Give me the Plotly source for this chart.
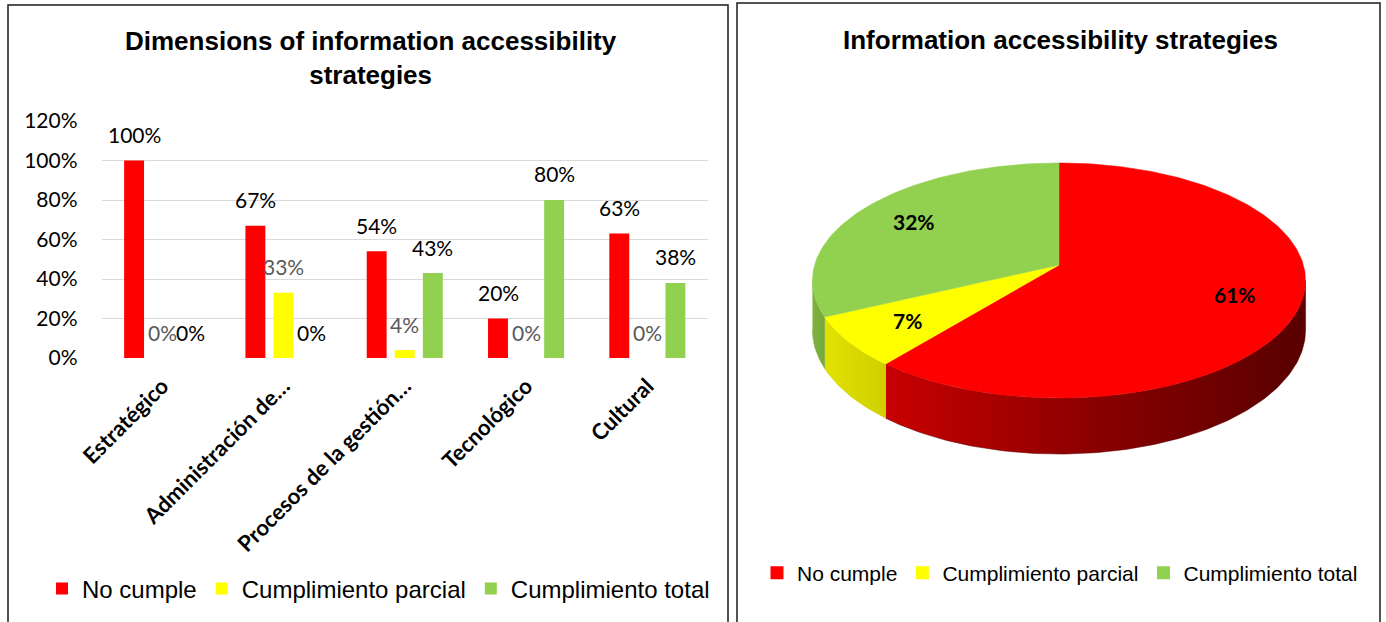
import math
import plotly.graph_objects as go

# ---------------- data ----------------
categories = ["Estratégico", "Administración de…", "Procesos de la gestión…", "Tecnológico", "Cultural"]
series_names = ["No cumple", "Cumplimiento parcial", "Cumplimiento total"]
no_cumple = [100, 67, 54, 20, 63]
cumplimiento_parcial = [0, 33, 4, 0, 0]
cumplimiento_total = [0, 0, 43, 80, 38]
y_ticks = [0, 20, 40, 60, 80, 100, 120]

pie_labels = ["No cumple", "Cumplimiento parcial", "Cumplimiento total"]
pie_values = [61, 7, 32]

# ---------------- style ----------------
W, H = 1386, 622
colors = ["#FF0000", "#FFFF00", "#92D050"]
label_colors = ["#000000", "#595959", "#000000"]
side_scales = [
    [[0, "#C80000"], [0.5, "#8A0000"], [1, "#580000"]],
    [[0, "#E2E200"], [1, "#CFCF00"]],
    [[0, "#7FB23F"], [1, "#76A83A"]],
]
FONT_NUM = "Lato, Open Sans, sans-serif"
FONT_ARIAL = "Liberation Sans, Arial, sans-serif"

def px_x(x):
    return x / W

def px_y(y):
    return 1 - y / H

fig = go.Figure()

# ---------------- bar chart ----------------
series = [no_cumple, cumplimiento_parcial, cumplimiento_total]
for name, vals, col in zip(series_names, series, colors):
    fig.add_trace(go.Bar(
        x=categories, y=vals, name=name, marker=dict(color=col, line=dict(width=0)),
        xaxis="x", yaxis="y", legend="legend", hoverinfo="skip",
    ))

annotations = []
offsets = [-28, 0, 28]
for vals, off, lc in zip(series, offsets, label_colors):
    for cat, v in zip(categories, vals):
        annotations.append(dict(
            x=cat, y=v, xref="x", yref="y", text=f"{v}%", showarrow=False,
            xanchor="center", xshift=off, yshift=26,
            font=dict(family=FONT_NUM, size=21, color=lc),
        ))

# ---------------- 3D-looking pie ----------------
CX, CY = 1059, 265
RX, RY = 244.4, 115.5
PERSP = 0.132
DEPTH = 48.6

def proj(r, th_deg, dz=0.0):
    th = math.radians(th_deg)
    d = 1 + PERSP * r * math.sin(th)
    x = CX + RX * r * math.cos(th) / d
    y = CY + (-RY * r * math.sin(th) + dz) / d
    return x, y

def arc(a0, a1, dz=0.0, n=None):
    n = n or max(2, int(abs(a1 - a0) / 1.0) + 1)
    pts = [proj(1.0, a0 + (a1 - a0) * k / (n - 1), dz) for k in range(n)]
    return [p[0] for p in pts], [p[1] for p in pts]

total = sum(pie_values)
starts, ends = [], []
acc = 0
for v in pie_values:
    s = 90 - 360 * acc / total
    e = s - 360 * v / total
    starts.append(s)
    ends.append(e)
    acc += v

vis_hi = -math.degrees(math.asin(PERSP))
vis_lo = -180 - vis_hi

# side walls
for i in range(len(pie_values)):
    lo, hi = max(ends[i], vis_lo), min(starts[i], vis_hi)
    if hi <= lo:
        continue
    tx, ty = arc(lo, hi, 0)
    bx, by = arc(hi, lo, DEPTH)
    fig.add_trace(go.Scatter(
        x=tx + bx, y=ty + by, fill="toself", mode="lines",
        line=dict(width=0.5, color=side_scales[i][-1][1]),
        fillgradient=dict(type="horizontal", colorscale=side_scales[i]),
        xaxis="x2", yaxis="y2", showlegend=False, hoverinfo="skip",
    ))

# top face wedges
for i in range(len(pie_values)):
    ax, ay = arc(starts[i], ends[i], 0)
    fig.add_trace(go.Scatter(
        x=[CX] + ax + [CX], y=[CY] + ay + [CY], fill="toself", mode="lines",
        line=dict(width=0.5, color=colors[i]), fillcolor=colors[i],
        xaxis="x2", yaxis="y2", showlegend=False, hoverinfo="skip",
    ))

# pie labels
for i, v in enumerate(pie_values):
    mid = (starts[i] + ends[i]) / 2
    lx, ly = proj(0.74, mid)
    annotations.append(dict(
        x=lx, y=ly, xref="x2", yref="y2", text=f"{round(100 * v / total)}%",
        showarrow=False, xanchor="center", yanchor="middle",
        font=dict(family=FONT_NUM, size=21, color="#000000", weight="bold"),
    ))

# pie legend entries
for name, col in zip(pie_labels, colors):
    fig.add_trace(go.Scatter(
        x=[None], y=[None], mode="markers", name=name,
        marker=dict(symbol="square", size=13, color=col),
        xaxis="x2", yaxis="y2", legend="legend2",
    ))

# titles
annotations.append(dict(
    x=px_x(371), y=px_y(58), xref="paper", yref="paper", xanchor="center", yanchor="middle",
    text="Dimensions of information accessibility<br>strategies", showarrow=False,
    font=dict(family=FONT_ARIAL, size=26, color="#000000", weight="bold"),
))
annotations.append(dict(
    x=px_x(1060), y=px_y(40), xref="paper", yref="paper", xanchor="center", yanchor="middle",
    text="Information accessibility strategies", showarrow=False,
    font=dict(family=FONT_ARIAL, size=26, color="#000000", weight="bold"),
))

# panel borders
shapes = [
    dict(type="path", xref="paper", yref="paper",
         path=f"M {px_x(8)},{px_y(640)} L {px_x(8)},{px_y(5)} L {px_x(728)},{px_y(5)} L {px_x(728)},{px_y(640)}",
         line=dict(color="#1a1a1a", width=1.5)),
    dict(type="path", xref="paper", yref="paper",
         path=f"M {px_x(737)},{px_y(640)} L {px_x(737)},{px_y(3)} L {px_x(1380)},{px_y(3)} L {px_x(1380)},{px_y(640)}",
         line=dict(color="#1a1a1a", width=1.5)),
]

fig.update_layout(
    width=W, height=H, autosize=False,
    margin=dict(l=0, r=0, t=0, b=0, autoexpand=False),
    paper_bgcolor="white", plot_bgcolor="white",
    barmode="group", bargap=0.306, bargroupgap=0.29,
    xaxis=dict(domain=[px_x(101.5), px_x(708)], anchor="y", showgrid=False, showline=False,
               zeroline=False, ticks="", tickangle=-45, ticklabelstandoff=10,
               tickfont=dict(family=FONT_NUM, size=22, color="#000000", weight="bold")),
    yaxis=dict(domain=[px_y(358), px_y(121)], anchor="x", range=[0, 120], tickvals=y_ticks,
               ticktext=[f"{v}%" for v in y_ticks], showgrid=True, gridcolor="#D9D9D9", gridwidth=1.3,
               zeroline=False, showline=False, ticks="", ticklabelstandoff=23,
               tickfont=dict(family=FONT_NUM, size=21, color="#000000")),
    xaxis2=dict(domain=[px_x(737), px_x(1380)], anchor="y2", range=[737, 1380], visible=False),
    yaxis2=dict(domain=[0, 1], anchor="x2", range=[622, 0], visible=False),
    legend=dict(orientation="h", x=px_x(42), xanchor="left", y=px_y(589), yanchor="middle",
                font=dict(family=FONT_ARIAL, size=24, color="#000000"), itemwidth=30,
                bgcolor="rgba(0,0,0,0)"),
    legend2=dict(orientation="h", x=px_x(757), xanchor="left", y=px_y(573), yanchor="middle",
                 font=dict(family=FONT_ARIAL, size=21, color="#000000"), itemwidth=30,
                 bgcolor="rgba(0,0,0,0)"),
    annotations=annotations,
    shapes=shapes,
    hovermode=False,
)

fig.write_html("out.html")
